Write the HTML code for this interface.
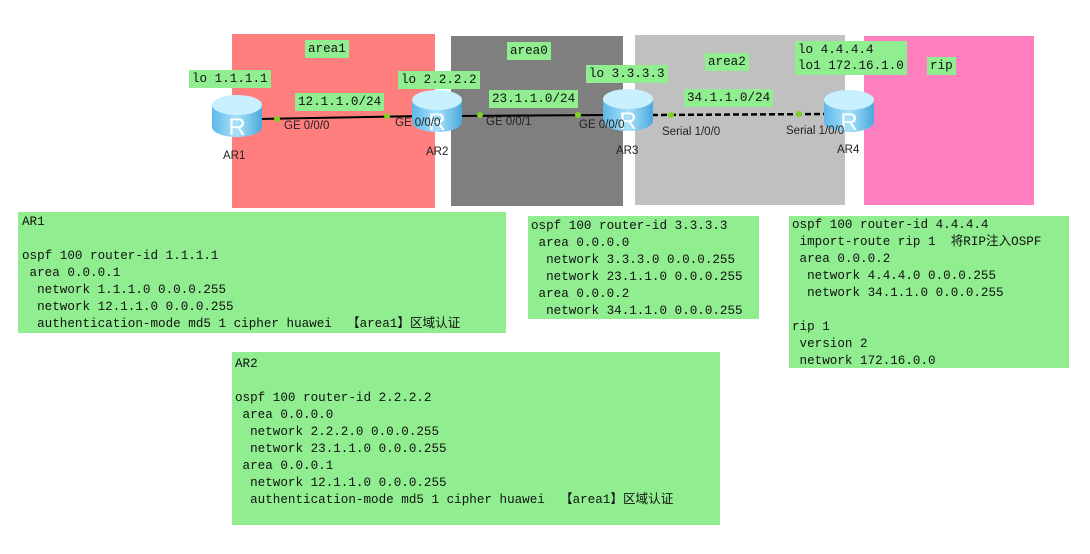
<!DOCTYPE html>
<html><head><meta charset="utf-8"><style>
body{margin:0;width:1090px;height:554px;background:#fff;position:relative;overflow:hidden;font-family:"Liberation Sans","Noto Sans CJK SC",sans-serif}
.a{position:absolute}
.g{position:absolute;background:#90ee90;font-family:"Liberation Mono","Noto Sans CJK SC",monospace;font-size:12.6px;line-height:17px;white-space:pre;color:#111}
.lb{position:absolute;background:#90ee90;font-family:"Liberation Mono",monospace;font-size:12.6px;line-height:16px;padding:1px 3px;white-space:pre;color:#111}
.t{position:absolute;font-size:11.5px;color:#222;white-space:nowrap}
.dot{position:absolute;width:6px;height:6px;border-radius:50%;background:#7ed321}
</style></head><body>
<div class="a" style="left:232px;top:34px;width:203px;height:174px;background:#ff7f7f"></div>
<div class="a" style="left:451px;top:36px;width:172px;height:170px;background:#7f7f7f"></div>
<div class="a" style="left:635px;top:35px;width:210px;height:170px;background:#c0c0c0"></div>
<div class="a" style="left:864px;top:36px;width:170px;height:169px;background:#ff7fbf"></div>

<div class="lb" style="left:305px;top:40px">area1</div>
<div class="lb" style="left:507px;top:42px">area0</div>
<div class="lb" style="left:705px;top:53px">area2</div>
<div class="lb" style="left:189px;top:70px">lo 1.1.1.1</div>
<div class="lb" style="left:398px;top:71px">lo 2.2.2.2</div>
<div class="lb" style="left:586px;top:65px">lo 3.3.3.3</div>
<div class="lb" style="left:795px;top:41px">lo 4.4.4.4
lo1 172.16.1.0</div>
<div class="lb" style="left:927px;top:57px">rip</div>
<div class="lb" style="left:295px;top:93px">12.1.1.0/24</div>
<div class="lb" style="left:489px;top:90px">23.1.1.0/24</div>
<div class="lb" style="left:684px;top:89px">34.1.1.0/24</div>

<svg class="a" style="left:0;top:0" width="1090" height="554">
<defs>
<linearGradient id="rg" x1="0" x2="1"><stop offset="0" stop-color="#5fb8e8"/><stop offset=".5" stop-color="#a8e2fb"/><stop offset="1" stop-color="#4aa8dc"/></linearGradient>
<g id="r"><path d="M-25,-10 v22 a25,10 0 0 0 50,0 v-22 z" fill="url(#rg)"/><ellipse cx="0" cy="-10" rx="25" ry="10" fill="#c8f0ff"/><text x="0" y="20" font-size="24" fill="#fff" text-anchor="middle" font-family="Liberation Sans">R</text></g>
</defs>
<line x1="258" y1="119" x2="420" y2="116" stroke="#000" stroke-width="2"/>
<line x1="458" y1="116" x2="610" y2="115" stroke="#000" stroke-width="2"/>
<line x1="652" y1="115" x2="828" y2="114" stroke="#000" stroke-width="2.5" stroke-dasharray="6,3"/>
</svg>
<div class="dot" style="left:274px;top:116px"></div>
<div class="dot" style="left:384px;top:113px"></div>
<div class="dot" style="left:477px;top:112px"></div>
<div class="dot" style="left:575px;top:112px"></div>
<div class="dot" style="left:668px;top:112px"></div>
<div class="dot" style="left:796px;top:111px"></div>

<svg class="a" style="left:0;top:0" width="1090" height="554">
<use href="#r" x="237" y="115"/><use href="#r" x="437" y="110"/><use href="#r" x="628" y="109"/><use href="#r" x="849" y="110"/>
</svg>

<div class="t" style="left:284px;top:120px">GE 0/0/0</div>
<div class="t" style="left:395px;top:117px">GE 0/0/0</div>
<div class="t" style="left:486px;top:116px">GE 0/0/1</div>
<div class="t" style="left:579px;top:119px">GE 0/0/0</div>
<div class="t" style="left:662px;top:126px">Serial 1/0/0</div>
<div class="t" style="left:786px;top:125px">Serial 1/0/0</div>
<div class="t" style="left:223px;top:150px">AR1</div>
<div class="t" style="left:426px;top:146px">AR2</div>
<div class="t" style="left:616px;top:145px">AR3</div>
<div class="t" style="left:837px;top:144px">AR4</div>

<div class="g" style="left:18px;top:212px;width:488px;height:121px;padding:2px 0 0 4px;box-sizing:border-box">AR1

ospf 100 router-id 1.1.1.1
 area 0.0.0.1
  network 1.1.1.0 0.0.0.255
  network 12.1.1.0 0.0.0.255
  authentication-mode md5 1 cipher huawei  【area1】区域认证</div>
<div class="g" style="left:528px;top:216px;width:231px;height:103px;padding:2px 0 0 3px;box-sizing:border-box">ospf 100 router-id 3.3.3.3
 area 0.0.0.0
  network 3.3.3.0 0.0.0.255
  network 23.1.1.0 0.0.0.255
 area 0.0.0.2
  network 34.1.1.0 0.0.0.255</div>
<div class="g" style="left:789px;top:216px;width:280px;height:152px;padding:1px 0 0 3px;box-sizing:border-box">ospf 100 router-id 4.4.4.4
 import-route rip 1  将RIP注入OSPF
 area 0.0.0.2
  network 4.4.4.0 0.0.0.255
  network 34.1.1.0 0.0.0.255

rip 1
 version 2
 network 172.16.0.0</div>
<div class="g" style="left:232px;top:352px;width:488px;height:173px;padding:4px 0 0 3px;box-sizing:border-box">AR2

ospf 100 router-id 2.2.2.2
 area 0.0.0.0
  network 2.2.2.0 0.0.0.255
  network 23.1.1.0 0.0.0.255
 area 0.0.0.1
  network 12.1.1.0 0.0.0.255
  authentication-mode md5 1 cipher huawei  【area1】区域认证</div>
</body></html>
